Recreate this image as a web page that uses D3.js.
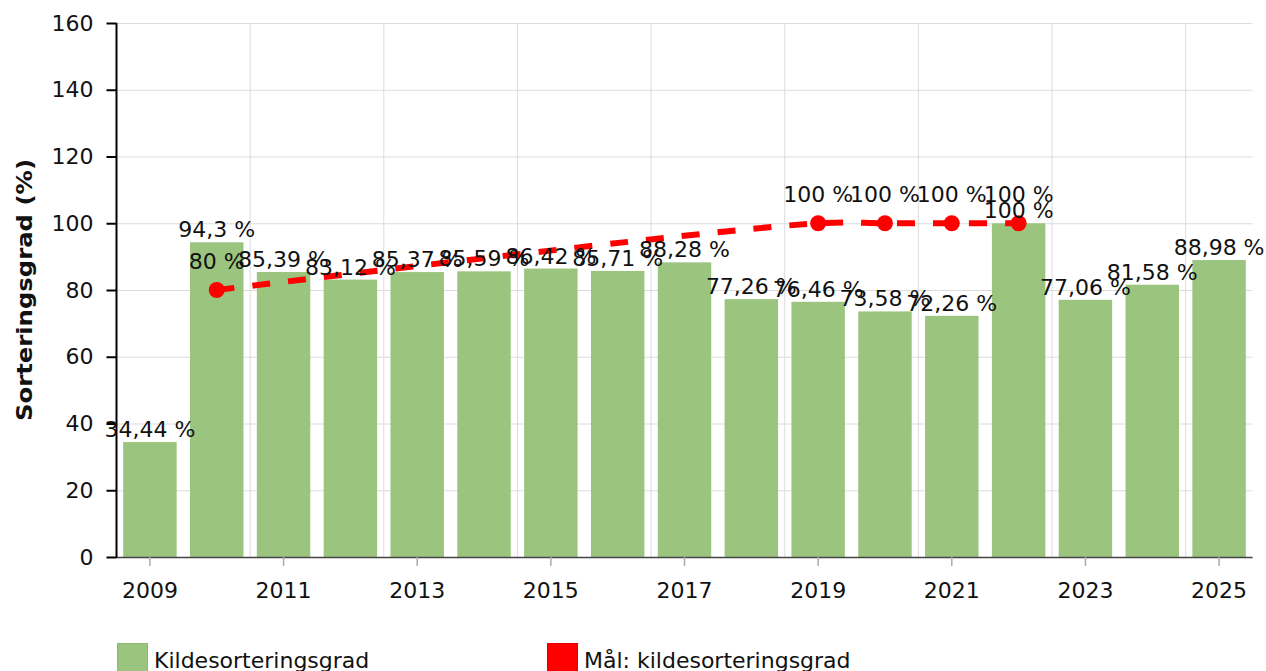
<!DOCTYPE html>
<html>
<head>
<meta charset="utf-8">
<script src="https://cdn.jsdelivr.net/npm/d3@7"></script>
<style>
  html, body { margin: 0; padding: 0; background: #fff; }
  svg { display: block; }
  text { font-family: "DejaVu Sans", Verdana, sans-serif; }
</style>
</head>
<body>
<svg id="chart" width="1266" height="671"></svg>
<script>
const years = ["2009","2010","2011","2012","2013","2014","2015","2016","2017","2018","2019","2020","2021","2022","2023","2024","2025"];
const sortingRate = [34.44, 94.3, 85.39, 83.12, 85.37, 85.59, 86.42, 85.71, 88.28, 77.26, 76.46, 73.58, 72.26, 100, 77.06, 81.58, 88.98];
const targetRate = [null, 80, null, null, null, null, null, null, null, null, 100, 100, 100, 100, null, null, null];
const yTicks = [0, 20, 40, 60, 80, 100, 120, 140, 160];
const xTickLabels = ["2009","2011","2013","2015","2017","2019","2021","2023","2025"];
const seriesNames = ["Kildesorteringsgrad", "Mål: kildesorteringsgrad"];
const yTitle = "Sorteringsgrad (%)";

const barColor = "#9bc57f";
const lineColor = "#ff0000";
const fontSize = 22;

const svg = d3.select("#chart");
const m = { left: 116.5, right: 1252.5, top: 23, bottom: 557 };

const x = d3.scaleBand().domain(years).range([m.left, m.right]).paddingInner(0.2).paddingOuter(0.1);
const y = d3.scaleLinear().domain([0, 160]).range([m.bottom, m.top]);
const fmt = v => String(v).replace(".", ",") + " %";

// horizontal grid
svg.append("g").selectAll("line").data(yTicks).join("line")
  .attr("x1", m.left).attr("x2", m.right)
  .attr("y1", d => y(d) + 0.5).attr("y2", d => y(d) + 0.5)
  .attr("stroke", "#dcdcdc").attr("stroke-width", 1);

// vertical grid at band boundaries (every second)
const vIdx = d3.range(1, years.length - 1, 2);
svg.append("g").selectAll("line").data(vIdx).join("line")
  .attr("x1", i => x(years[i + 1]) - x.step() * x.paddingInner() / 2)
  .attr("x2", i => x(years[i + 1]) - x.step() * x.paddingInner() / 2)
  .attr("y1", m.top).attr("y2", m.bottom)
  .attr("stroke", "#dcdcdc").attr("stroke-width", 1);

// bars
svg.append("g").selectAll("rect").data(years).join("rect")
  .attr("x", d => x(d))
  .attr("width", x.bandwidth())
  .attr("y", (d, i) => y(sortingRate[i]))
  .attr("height", (d, i) => y(0) - y(sortingRate[i]))
  .attr("fill", barColor);

// x axis
const xAxis = d3.axisBottom(x).tickValues(xTickLabels).tickSize(9).tickPadding(16);
const gx = svg.append("g").attr("transform", `translate(0,${m.bottom})`).call(xAxis);
gx.select(".domain").attr("stroke", "#444").attr("stroke-width", 1.5).attr("d", `M${m.left},0.5H${m.right}`);
gx.selectAll(".tick line").attr("stroke", "#aaa").attr("stroke-width", 1.5);
gx.selectAll(".tick text").attr("font-size", fontSize).attr("fill", "#111").attr("font-family", "DejaVu Sans");

// y axis
const yAxis = d3.axisLeft(y).tickValues(yTicks).tickSize(10).tickPadding(13);
const gy = svg.append("g").attr("transform", `translate(${m.left},0)`).call(yAxis);
gy.select(".domain").attr("stroke", "#000").attr("stroke-width", 2).attr("d", `M0,${m.top}V${m.bottom + 1}`);
gy.selectAll(".tick line").attr("stroke", "#000").attr("stroke-width", 2);
gy.selectAll(".tick text").attr("font-size", fontSize).attr("fill", "#111").attr("font-family", "DejaVu Sans");

// y title
svg.append("text")
  .attr("transform", `translate(32,${(m.top + m.bottom) / 2}) rotate(-90)`)
  .attr("text-anchor", "middle")
  .attr("font-size", fontSize).attr("font-weight", "bold").attr("fill", "#111")
  .attr("textLength", 262).attr("lengthAdjust", "spacingAndGlyphs")
  .text(yTitle);

// target line
const tPts = years.map((d, i) => ({ d, v: targetRate[i] })).filter(p => p.v !== null);
const line = d3.line()
  .x(p => x(p.d) + x.bandwidth() / 2)
  .y(p => y(p.v))
  .curve(d3.curveCatmullRom.alpha(0.5));
svg.append("path").datum(tPts)
  .attr("d", line)
  .attr("fill", "none").attr("stroke", lineColor)
  .attr("stroke-width", 6).attr("stroke-dasharray", "18,18");

svg.append("g").selectAll("circle").data(tPts).join("circle")
  .attr("cx", p => x(p.d) + x.bandwidth() / 2)
  .attr("cy", p => y(p.v))
  .attr("r", 8).attr("fill", lineColor);

// bar labels
svg.append("g").selectAll("text").data(years).join("text")
  .attr("x", d => x(d) + x.bandwidth() / 2)
  .attr("y", (d, i) => y(sortingRate[i]) - 5)
  .attr("text-anchor", "middle")
  .attr("font-size", fontSize).attr("fill", "#111")
  .text((d, i) => fmt(sortingRate[i]));

// line labels
svg.append("g").selectAll("text").data(tPts).join("text")
  .attr("x", p => x(p.d) + x.bandwidth() / 2)
  .attr("y", p => y(p.v) - 21)
  .attr("text-anchor", "middle")
  .attr("font-size", fontSize).attr("fill", "#111")
  .text(p => fmt(p.v));

// legend
const legend = svg.append("g");
const legX = [117, 547];
const legCol = [barColor, lineColor];
const legStroke = ["#8db872", "#e00000"];
seriesNames.forEach((name, i) => {
  legend.append("rect").attr("x", legX[i] + 0.5).attr("y", 643.5).attr("width", 30).attr("height", 30)
    .attr("fill", legCol[i]).attr("stroke", legStroke[i]).attr("stroke-width", 1);
  legend.append("text").attr("x", legX[i] + 37).attr("y", 668)
    .attr("font-size", fontSize).attr("fill", "#111").text(name);
});
</script>
</body>
</html>
